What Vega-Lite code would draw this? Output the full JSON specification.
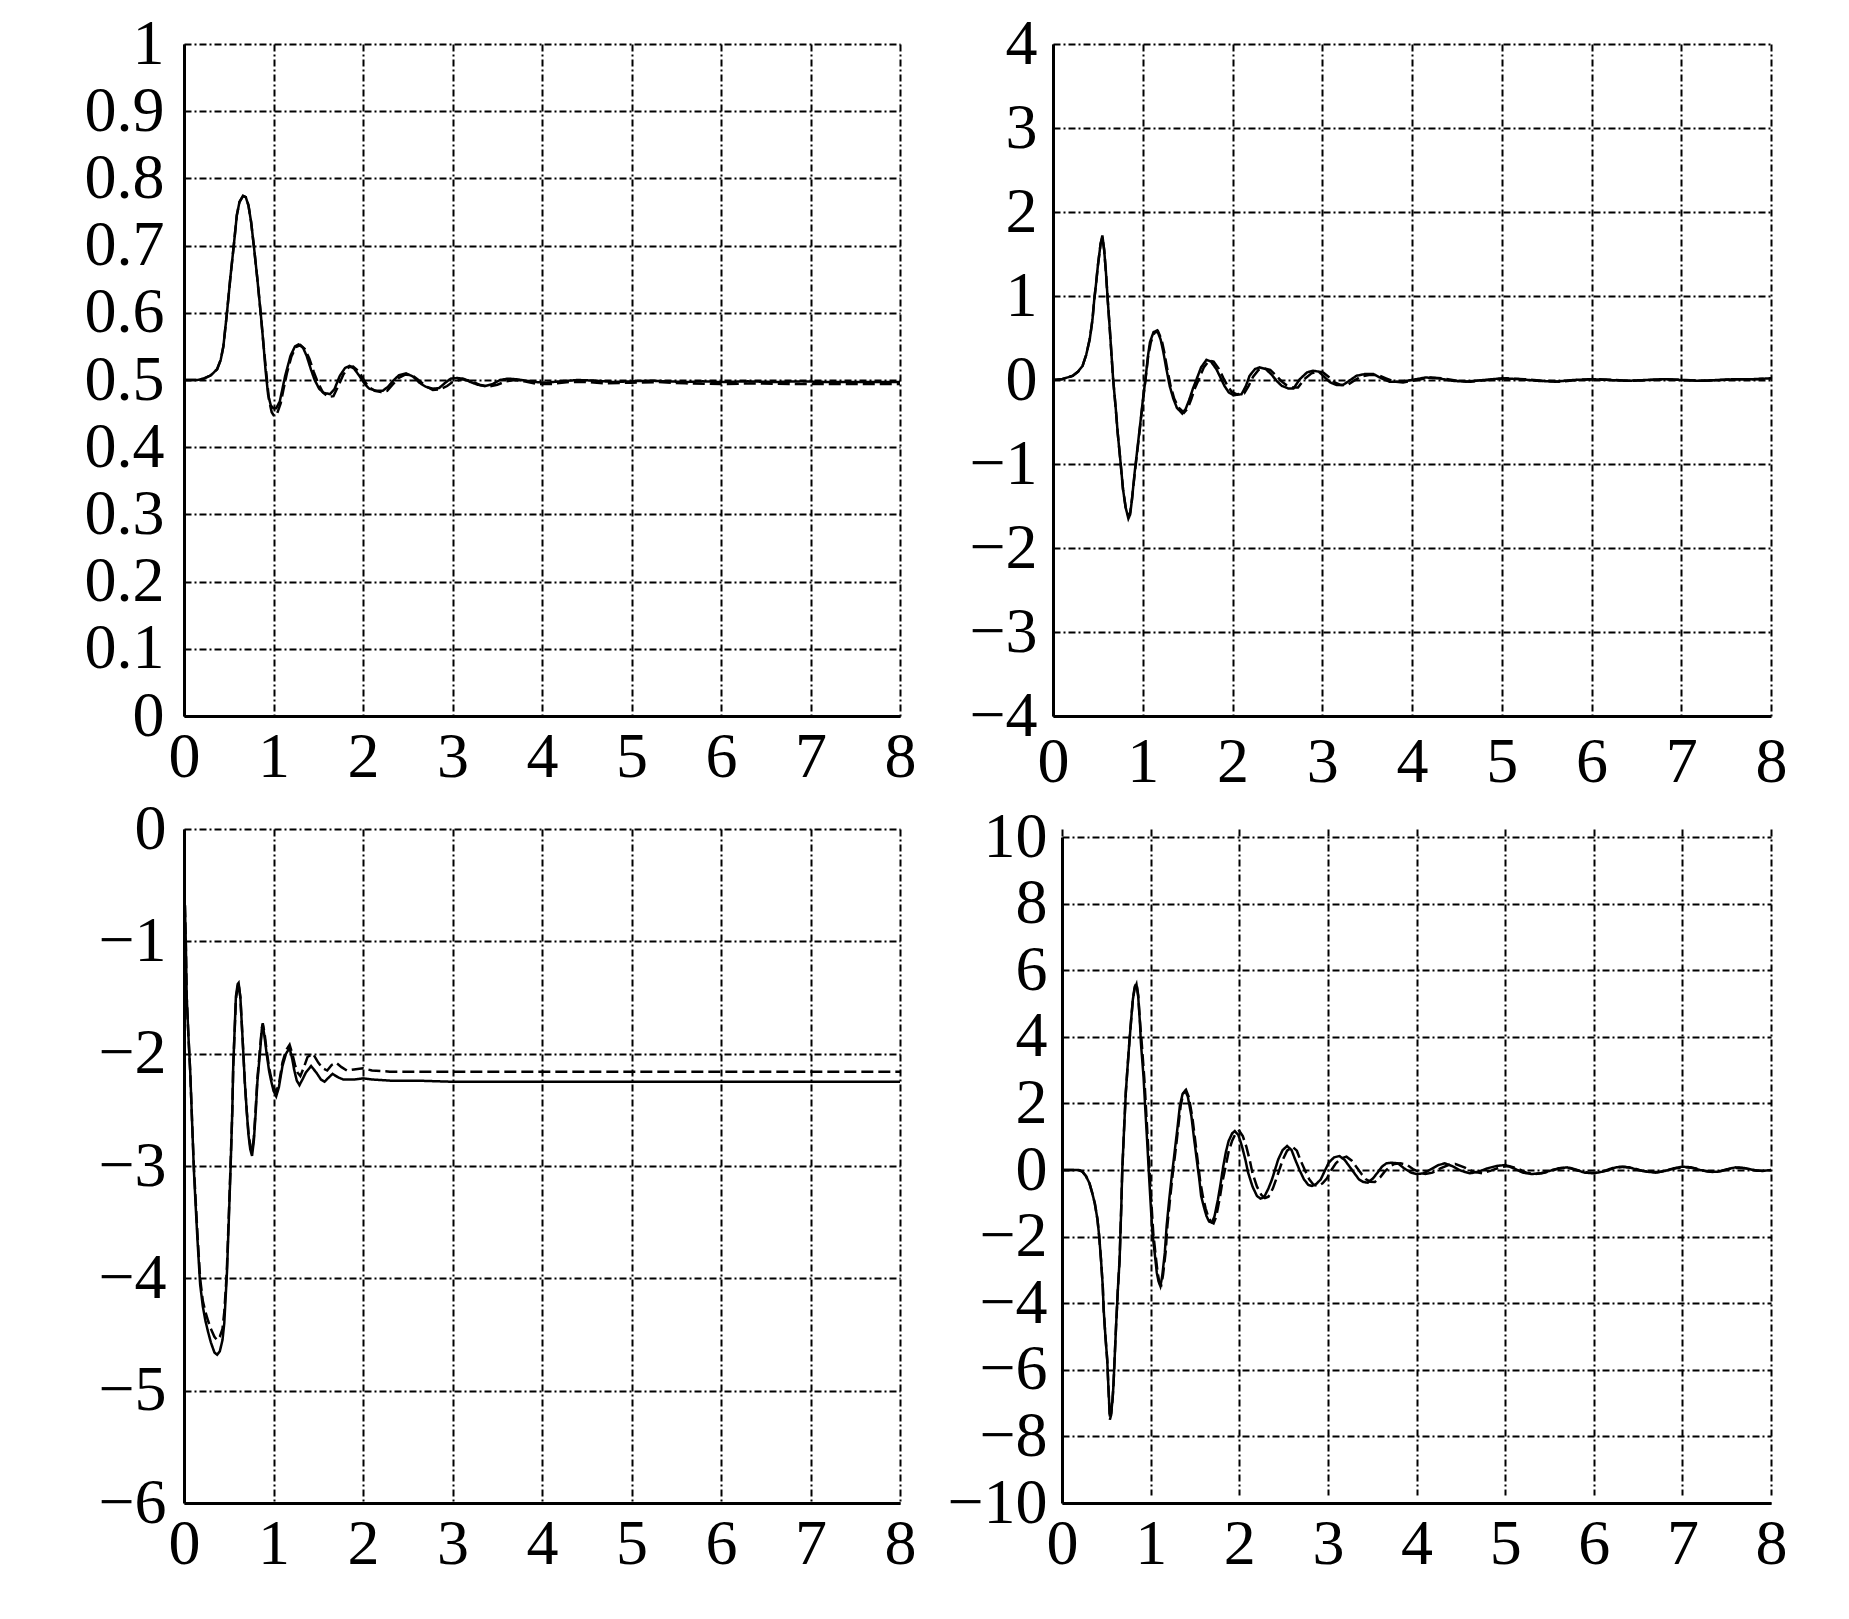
{
  "$schema": "https://vega.github.io/schema/vega-lite/v6.json",
  "background": "white",
  "padding": {"left": 84, "top": 12, "right": 10, "bottom": 10},
  "autosize": {"type": "pad"},
  "config": {
    "view": {"stroke": null},
    "font": "Liberation Serif",
    "axis": {
      "domainColor": "black",
      "domainWidth": 3,
      "grid": true,
      "gridColor": "black",
      "gridDash": [7, 3, 2, 3],
      "gridWidth": 2,
      "gridOpacity": 1,
      "ticks": false,
      "tickSize": 0,
      "labelFont": "Liberation Serif",
      "labelFontSize": 64,
      "labelColor": "black",
      "labelOverlap": false,
      "labelFlush": false,
      "labelBound": false,
      "title": null
    }
  },
  "datasets": {
    "p1": [
      {"t":0,"v":0.5,"s":"solid"},{"t":0.15,"v":0.5,"s":"solid"},{"t":0.22,"v":0.502,"s":"solid"},{"t":0.3,"v":0.507,"s":"solid"},{"t":0.37,"v":0.516,"s":"solid"},{"t":0.41,"v":0.53,"s":"solid"},{"t":0.44,"v":0.55,"s":"solid"},{"t":0.48,"v":0.6,"s":"solid"},{"t":0.52,"v":0.655,"s":"solid"},{"t":0.56,"v":0.705,"s":"solid"},{"t":0.59,"v":0.745,"s":"solid"},{"t":0.62,"v":0.765,"s":"solid"},{"t":0.66,"v":0.774,"s":"solid"},{"t":0.69,"v":0.772,"s":"solid"},{"t":0.72,"v":0.76,"s":"solid"},{"t":0.75,"v":0.735,"s":"solid"},{"t":0.78,"v":0.7,"s":"solid"},{"t":0.82,"v":0.65,"s":"solid"},{"t":0.86,"v":0.595,"s":"solid"},{"t":0.89,"v":0.55,"s":"solid"},{"t":0.91,"v":0.516,"s":"solid"},{"t":0.94,"v":0.478,"s":"solid"},{"t":0.97,"v":0.462,"s":"solid"},{"t":1.0,"v":0.458,"s":"solid"},{"t":1.03,"v":0.458,"s":"solid"},{"t":1.07,"v":0.468,"s":"solid"},{"t":1.1,"v":0.487,"s":"solid"},{"t":1.13,"v":0.506,"s":"solid"},{"t":1.19,"v":0.536,"s":"solid"},{"t":1.24,"v":0.55,"s":"solid"},{"t":1.28,"v":0.553,"s":"solid"},{"t":1.33,"v":0.548,"s":"solid"},{"t":1.37,"v":0.536,"s":"solid"},{"t":1.42,"v":0.515,"s":"solid"},{"t":1.46,"v":0.5,"s":"solid"},{"t":1.51,"v":0.487,"s":"solid"},{"t":1.56,"v":0.481,"s":"solid"},{"t":1.63,"v":0.479,"s":"solid"},{"t":1.68,"v":0.486,"s":"solid"},{"t":1.74,"v":0.506,"s":"solid"},{"t":1.8,"v":0.518,"s":"solid"},{"t":1.85,"v":0.521,"s":"solid"},{"t":1.9,"v":0.517,"s":"solid"},{"t":1.96,"v":0.506,"s":"solid"},{"t":2.02,"v":0.494,"s":"solid"},{"t":2.07,"v":0.487,"s":"solid"},{"t":2.15,"v":0.484,"s":"solid"},{"t":2.22,"v":0.484,"s":"solid"},{"t":2.28,"v":0.49,"s":"solid"},{"t":2.33,"v":0.498,"s":"solid"},{"t":2.4,"v":0.507,"s":"solid"},{"t":2.48,"v":0.51,"s":"solid"},{"t":2.56,"v":0.505,"s":"solid"},{"t":2.63,"v":0.496,"s":"solid"},{"t":2.7,"v":0.49,"s":"solid"},{"t":2.78,"v":0.487,"s":"solid"},{"t":2.85,"v":0.488,"s":"solid"},{"t":2.92,"v":0.496,"s":"solid"},{"t":2.98,"v":0.502,"s":"solid"},{"t":3.05,"v":0.503,"s":"solid"},{"t":3.12,"v":0.502,"s":"solid"},{"t":3.2,"v":0.497,"s":"solid"},{"t":3.28,"v":0.493,"s":"solid"},{"t":3.36,"v":0.491,"s":"solid"},{"t":3.45,"v":0.494,"s":"solid"},{"t":3.53,"v":0.5,"s":"solid"},{"t":3.62,"v":0.502,"s":"solid"},{"t":3.72,"v":0.501,"s":"solid"},{"t":3.82,"v":0.499,"s":"solid"},{"t":3.92,"v":0.497,"s":"solid"},{"t":4.05,"v":0.496,"s":"solid"},{"t":4.2,"v":0.498,"s":"solid"},{"t":4.4,"v":0.5,"s":"solid"},{"t":4.6,"v":0.499,"s":"solid"},{"t":4.8,"v":0.497,"s":"solid"},{"t":5.0,"v":0.498,"s":"solid"},{"t":5.2,"v":0.499,"s":"solid"},{"t":5.4,"v":0.498,"s":"solid"},{"t":5.6,"v":0.497,"s":"solid"},{"t":5.8,"v":0.498,"s":"solid"},{"t":6.0,"v":0.497,"s":"solid"},{"t":6.3,"v":0.498,"s":"solid"},{"t":6.6,"v":0.497,"s":"solid"},{"t":6.9,"v":0.498,"s":"solid"},{"t":7.2,"v":0.497,"s":"solid"},{"t":7.5,"v":0.497,"s":"solid"},{"t":7.8,"v":0.497,"s":"solid"},{"t":8.0,"v":0.497,"s":"solid"},
      {"t":0,"v":0.5,"s":"dashed"},{"t":0.15,"v":0.5,"s":"dashed"},{"t":0.22,"v":0.502,"s":"dashed"},{"t":0.3,"v":0.507,"s":"dashed"},{"t":0.37,"v":0.516,"s":"dashed"},{"t":0.41,"v":0.53,"s":"dashed"},{"t":0.44,"v":0.55,"s":"dashed"},{"t":0.48,"v":0.6,"s":"dashed"},{"t":0.52,"v":0.655,"s":"dashed"},{"t":0.56,"v":0.705,"s":"dashed"},{"t":0.59,"v":0.745,"s":"dashed"},{"t":0.62,"v":0.765,"s":"dashed"},{"t":0.66,"v":0.774,"s":"dashed"},{"t":0.69,"v":0.772,"s":"dashed"},{"t":0.72,"v":0.76,"s":"dashed"},{"t":0.75,"v":0.735,"s":"dashed"},{"t":0.78,"v":0.7,"s":"dashed"},{"t":0.82,"v":0.65,"s":"dashed"},{"t":0.86,"v":0.595,"s":"dashed"},{"t":0.89,"v":0.55,"s":"dashed"},{"t":0.92,"v":0.51,"s":"dashed"},{"t":0.95,"v":0.47,"s":"dashed"},{"t":0.98,"v":0.452,"s":"dashed"},{"t":1.01,"v":0.446,"s":"dashed"},{"t":1.04,"v":0.45,"s":"dashed"},{"t":1.08,"v":0.465,"s":"dashed"},{"t":1.11,"v":0.485,"s":"dashed"},{"t":1.15,"v":0.51,"s":"dashed"},{"t":1.2,"v":0.535,"s":"dashed"},{"t":1.25,"v":0.549,"s":"dashed"},{"t":1.3,"v":0.552,"s":"dashed"},{"t":1.35,"v":0.546,"s":"dashed"},{"t":1.4,"v":0.532,"s":"dashed"},{"t":1.45,"v":0.512,"s":"dashed"},{"t":1.5,"v":0.495,"s":"dashed"},{"t":1.55,"v":0.482,"s":"dashed"},{"t":1.61,"v":0.475,"s":"dashed"},{"t":1.67,"v":0.476,"s":"dashed"},{"t":1.72,"v":0.49,"s":"dashed"},{"t":1.78,"v":0.508,"s":"dashed"},{"t":1.84,"v":0.519,"s":"dashed"},{"t":1.89,"v":0.52,"s":"dashed"},{"t":1.95,"v":0.513,"s":"dashed"},{"t":2.0,"v":0.502,"s":"dashed"},{"t":2.06,"v":0.49,"s":"dashed"},{"t":2.13,"v":0.484,"s":"dashed"},{"t":2.2,"v":0.482,"s":"dashed"},{"t":2.27,"v":0.484,"s":"dashed"},{"t":2.33,"v":0.493,"s":"dashed"},{"t":2.4,"v":0.503,"s":"dashed"},{"t":2.47,"v":0.508,"s":"dashed"},{"t":2.55,"v":0.507,"s":"dashed"},{"t":2.63,"v":0.499,"s":"dashed"},{"t":2.7,"v":0.491,"s":"dashed"},{"t":2.78,"v":0.485,"s":"dashed"},{"t":2.86,"v":0.486,"s":"dashed"},{"t":2.94,"v":0.491,"s":"dashed"},{"t":3.0,"v":0.497,"s":"dashed"},{"t":3.1,"v":0.501,"s":"dashed"},{"t":3.2,"v":0.499,"s":"dashed"},{"t":3.3,"v":0.493,"s":"dashed"},{"t":3.4,"v":0.49,"s":"dashed"},{"t":3.5,"v":0.493,"s":"dashed"},{"t":3.6,"v":0.498,"s":"dashed"},{"t":3.7,"v":0.5,"s":"dashed"},{"t":3.8,"v":0.498,"s":"dashed"},{"t":3.95,"v":0.494,"s":"dashed"},{"t":4.1,"v":0.494,"s":"dashed"},{"t":4.3,"v":0.497,"s":"dashed"},{"t":4.5,"v":0.497,"s":"dashed"},{"t":4.7,"v":0.495,"s":"dashed"},{"t":5.0,"v":0.496,"s":"dashed"},{"t":5.3,"v":0.497,"s":"dashed"},{"t":5.6,"v":0.495,"s":"dashed"},{"t":6.0,"v":0.494,"s":"dashed"},{"t":6.4,"v":0.495,"s":"dashed"},{"t":6.8,"v":0.494,"s":"dashed"},{"t":7.2,"v":0.494,"s":"dashed"},{"t":7.6,"v":0.494,"s":"dashed"},{"t":8.0,"v":0.494,"s":"dashed"}
    ],
    "p2": [
      {"t":0,"v":0,"s":"solid"},{"t":0.1,"v":0.01,"s":"solid"},{"t":0.22,"v":0.05,"s":"solid"},{"t":0.28,"v":0.1,"s":"solid"},{"t":0.33,"v":0.17,"s":"solid"},{"t":0.37,"v":0.3,"s":"solid"},{"t":0.41,"v":0.49,"s":"solid"},{"t":0.44,"v":0.72,"s":"solid"},{"t":0.46,"v":0.96,"s":"solid"},{"t":0.48,"v":1.15,"s":"solid"},{"t":0.5,"v":1.36,"s":"solid"},{"t":0.53,"v":1.62,"s":"solid"},{"t":0.55,"v":1.72,"s":"solid"},{"t":0.57,"v":1.55,"s":"solid"},{"t":0.59,"v":1.28,"s":"solid"},{"t":0.61,"v":0.95,"s":"solid"},{"t":0.63,"v":0.65,"s":"solid"},{"t":0.65,"v":0.33,"s":"solid"},{"t":0.67,"v":0.01,"s":"solid"},{"t":0.7,"v":-0.35,"s":"solid"},{"t":0.72,"v":-0.62,"s":"solid"},{"t":0.75,"v":-0.95,"s":"solid"},{"t":0.78,"v":-1.3,"s":"solid"},{"t":0.81,"v":-1.52,"s":"solid"},{"t":0.84,"v":-1.65,"s":"solid"},{"t":0.86,"v":-1.6,"s":"solid"},{"t":0.88,"v":-1.42,"s":"solid"},{"t":0.91,"v":-1.1,"s":"solid"},{"t":0.94,"v":-0.82,"s":"solid"},{"t":0.97,"v":-0.54,"s":"solid"},{"t":1.0,"v":-0.25,"s":"solid"},{"t":1.03,"v":0.01,"s":"solid"},{"t":1.06,"v":0.3,"s":"solid"},{"t":1.08,"v":0.45,"s":"solid"},{"t":1.12,"v":0.57,"s":"solid"},{"t":1.16,"v":0.59,"s":"solid"},{"t":1.2,"v":0.48,"s":"solid"},{"t":1.23,"v":0.33,"s":"solid"},{"t":1.26,"v":0.15,"s":"solid"},{"t":1.3,"v":-0.07,"s":"solid"},{"t":1.34,"v":-0.22,"s":"solid"},{"t":1.38,"v":-0.33,"s":"solid"},{"t":1.44,"v":-0.4,"s":"solid"},{"t":1.48,"v":-0.34,"s":"solid"},{"t":1.52,"v":-0.23,"s":"solid"},{"t":1.56,"v":-0.1,"s":"solid"},{"t":1.6,"v":0.01,"s":"solid"},{"t":1.65,"v":0.15,"s":"solid"},{"t":1.71,"v":0.24,"s":"solid"},{"t":1.76,"v":0.22,"s":"solid"},{"t":1.82,"v":0.13,"s":"solid"},{"t":1.87,"v":0.02,"s":"solid"},{"t":1.91,"v":-0.07,"s":"solid"},{"t":1.96,"v":-0.15,"s":"solid"},{"t":2.01,"v":-0.18,"s":"solid"},{"t":2.1,"v":-0.17,"s":"solid"},{"t":2.15,"v":-0.07,"s":"solid"},{"t":2.19,"v":0.05,"s":"solid"},{"t":2.25,"v":0.13,"s":"solid"},{"t":2.3,"v":0.15,"s":"solid"},{"t":2.37,"v":0.13,"s":"solid"},{"t":2.43,"v":0.07,"s":"solid"},{"t":2.5,"v":-0.02,"s":"solid"},{"t":2.55,"v":-0.07,"s":"solid"},{"t":2.62,"v":-0.1,"s":"solid"},{"t":2.68,"v":-0.1,"s":"solid"},{"t":2.75,"v":0.01,"s":"solid"},{"t":2.83,"v":0.09,"s":"solid"},{"t":2.9,"v":0.11,"s":"solid"},{"t":2.96,"v":0.1,"s":"solid"},{"t":3.03,"v":0.03,"s":"solid"},{"t":3.09,"v":-0.03,"s":"solid"},{"t":3.16,"v":-0.06,"s":"solid"},{"t":3.23,"v":-0.06,"s":"solid"},{"t":3.3,"v":-0.01,"s":"solid"},{"t":3.38,"v":0.05,"s":"solid"},{"t":3.47,"v":0.07,"s":"solid"},{"t":3.57,"v":0.07,"s":"solid"},{"t":3.66,"v":0.02,"s":"solid"},{"t":3.75,"v":-0.02,"s":"solid"},{"t":3.85,"v":-0.02,"s":"solid"},{"t":3.94,"v":-0.01,"s":"solid"},{"t":4.05,"v":0.01,"s":"solid"},{"t":4.15,"v":0.03,"s":"solid"},{"t":4.3,"v":0.02,"s":"solid"},{"t":4.45,"v":-0.01,"s":"solid"},{"t":4.6,"v":-0.02,"s":"solid"},{"t":4.8,"v":0.0,"s":"solid"},{"t":5.0,"v":0.02,"s":"solid"},{"t":5.2,"v":0.01,"s":"solid"},{"t":5.4,"v":-0.01,"s":"solid"},{"t":5.6,"v":-0.02,"s":"solid"},{"t":5.8,"v":0.0,"s":"solid"},{"t":6.0,"v":0.01,"s":"solid"},{"t":6.2,"v":0.0,"s":"solid"},{"t":6.4,"v":-0.01,"s":"solid"},{"t":6.6,"v":0.0,"s":"solid"},{"t":6.8,"v":0.01,"s":"solid"},{"t":7.0,"v":0.0,"s":"solid"},{"t":7.2,"v":-0.01,"s":"solid"},{"t":7.4,"v":0.0,"s":"solid"},{"t":7.6,"v":0.01,"s":"solid"},{"t":7.8,"v":0.01,"s":"solid"},{"t":8.0,"v":0.02,"s":"solid"},
      {"t":0,"v":0,"s":"dashed"},{"t":0.1,"v":0.01,"s":"dashed"},{"t":0.22,"v":0.05,"s":"dashed"},{"t":0.28,"v":0.1,"s":"dashed"},{"t":0.33,"v":0.17,"s":"dashed"},{"t":0.37,"v":0.3,"s":"dashed"},{"t":0.41,"v":0.49,"s":"dashed"},{"t":0.44,"v":0.72,"s":"dashed"},{"t":0.46,"v":0.96,"s":"dashed"},{"t":0.48,"v":1.15,"s":"dashed"},{"t":0.5,"v":1.36,"s":"dashed"},{"t":0.53,"v":1.62,"s":"dashed"},{"t":0.55,"v":1.7,"s":"dashed"},{"t":0.57,"v":1.55,"s":"dashed"},{"t":0.59,"v":1.28,"s":"dashed"},{"t":0.61,"v":0.95,"s":"dashed"},{"t":0.63,"v":0.65,"s":"dashed"},{"t":0.65,"v":0.33,"s":"dashed"},{"t":0.67,"v":0.01,"s":"dashed"},{"t":0.7,"v":-0.35,"s":"dashed"},{"t":0.72,"v":-0.62,"s":"dashed"},{"t":0.75,"v":-0.95,"s":"dashed"},{"t":0.78,"v":-1.3,"s":"dashed"},{"t":0.81,"v":-1.52,"s":"dashed"},{"t":0.84,"v":-1.62,"s":"dashed"},{"t":0.86,"v":-1.58,"s":"dashed"},{"t":0.88,"v":-1.42,"s":"dashed"},{"t":0.91,"v":-1.12,"s":"dashed"},{"t":0.94,"v":-0.84,"s":"dashed"},{"t":0.97,"v":-0.56,"s":"dashed"},{"t":1.0,"v":-0.27,"s":"dashed"},{"t":1.03,"v":0.0,"s":"dashed"},{"t":1.06,"v":0.28,"s":"dashed"},{"t":1.09,"v":0.45,"s":"dashed"},{"t":1.13,"v":0.56,"s":"dashed"},{"t":1.17,"v":0.58,"s":"dashed"},{"t":1.21,"v":0.48,"s":"dashed"},{"t":1.24,"v":0.33,"s":"dashed"},{"t":1.27,"v":0.15,"s":"dashed"},{"t":1.31,"v":-0.07,"s":"dashed"},{"t":1.35,"v":-0.22,"s":"dashed"},{"t":1.4,"v":-0.33,"s":"dashed"},{"t":1.46,"v":-0.39,"s":"dashed"},{"t":1.5,"v":-0.34,"s":"dashed"},{"t":1.54,"v":-0.23,"s":"dashed"},{"t":1.58,"v":-0.1,"s":"dashed"},{"t":1.63,"v":0.02,"s":"dashed"},{"t":1.68,"v":0.15,"s":"dashed"},{"t":1.74,"v":0.23,"s":"dashed"},{"t":1.79,"v":0.22,"s":"dashed"},{"t":1.85,"v":0.13,"s":"dashed"},{"t":1.9,"v":0.02,"s":"dashed"},{"t":1.94,"v":-0.06,"s":"dashed"},{"t":1.99,"v":-0.14,"s":"dashed"},{"t":2.05,"v":-0.17,"s":"dashed"},{"t":2.13,"v":-0.16,"s":"dashed"},{"t":2.18,"v":-0.07,"s":"dashed"},{"t":2.23,"v":0.04,"s":"dashed"},{"t":2.29,"v":0.12,"s":"dashed"},{"t":2.35,"v":0.14,"s":"dashed"},{"t":2.42,"v":0.12,"s":"dashed"},{"t":2.48,"v":0.06,"s":"dashed"},{"t":2.55,"v":-0.02,"s":"dashed"},{"t":2.6,"v":-0.06,"s":"dashed"},{"t":2.67,"v":-0.09,"s":"dashed"},{"t":2.73,"v":-0.09,"s":"dashed"},{"t":2.8,"v":0.01,"s":"dashed"},{"t":2.88,"v":0.08,"s":"dashed"},{"t":2.95,"v":0.1,"s":"dashed"},{"t":3.01,"v":0.09,"s":"dashed"},{"t":3.08,"v":0.03,"s":"dashed"},{"t":3.14,"v":-0.03,"s":"dashed"},{"t":3.21,"v":-0.06,"s":"dashed"},{"t":3.28,"v":-0.06,"s":"dashed"},{"t":3.35,"v":-0.01,"s":"dashed"},{"t":3.43,"v":0.04,"s":"dashed"},{"t":3.52,"v":0.06,"s":"dashed"},{"t":3.62,"v":0.06,"s":"dashed"},{"t":3.71,"v":0.02,"s":"dashed"},{"t":3.8,"v":-0.02,"s":"dashed"},{"t":3.9,"v":-0.03,"s":"dashed"},{"t":4.0,"v":-0.01,"s":"dashed"},{"t":4.1,"v":0.01,"s":"dashed"},{"t":4.2,"v":0.03,"s":"dashed"},{"t":4.35,"v":0.02,"s":"dashed"},{"t":4.5,"v":-0.01,"s":"dashed"},{"t":4.65,"v":-0.02,"s":"dashed"},{"t":4.85,"v":0.0,"s":"dashed"},{"t":5.05,"v":0.02,"s":"dashed"},{"t":5.25,"v":0.01,"s":"dashed"},{"t":5.45,"v":-0.01,"s":"dashed"},{"t":5.65,"v":-0.02,"s":"dashed"},{"t":5.85,"v":0.0,"s":"dashed"},{"t":6.05,"v":0.01,"s":"dashed"},{"t":6.25,"v":0.0,"s":"dashed"},{"t":6.45,"v":-0.01,"s":"dashed"},{"t":6.65,"v":0.0,"s":"dashed"},{"t":6.85,"v":0.01,"s":"dashed"},{"t":7.05,"v":0.0,"s":"dashed"},{"t":7.25,"v":-0.01,"s":"dashed"},{"t":7.45,"v":0.0,"s":"dashed"},{"t":7.65,"v":0.01,"s":"dashed"},{"t":7.85,"v":0.01,"s":"dashed"},{"t":8.0,"v":0.02,"s":"dashed"}
    ],
    "p3": [
      {"t":0.01,"v":-0.68,"s":"solid"},{"t":0.02,"v":-1.0,"s":"solid"},{"t":0.03,"v":-1.49,"s":"solid"},{"t":0.05,"v":-1.85,"s":"solid"},{"t":0.07,"v":-2.17,"s":"solid"},{"t":0.09,"v":-2.6,"s":"solid"},{"t":0.11,"v":-3.03,"s":"solid"},{"t":0.13,"v":-3.35,"s":"solid"},{"t":0.15,"v":-3.65,"s":"solid"},{"t":0.18,"v":-4.05,"s":"solid"},{"t":0.21,"v":-4.25,"s":"solid"},{"t":0.24,"v":-4.38,"s":"solid"},{"t":0.27,"v":-4.48,"s":"solid"},{"t":0.3,"v":-4.57,"s":"solid"},{"t":0.34,"v":-4.66,"s":"solid"},{"t":0.37,"v":-4.68,"s":"solid"},{"t":0.4,"v":-4.65,"s":"solid"},{"t":0.43,"v":-4.55,"s":"solid"},{"t":0.45,"v":-4.4,"s":"solid"},{"t":0.47,"v":-4.1,"s":"solid"},{"t":0.48,"v":-3.95,"s":"solid"},{"t":0.5,"v":-3.5,"s":"solid"},{"t":0.52,"v":-3.03,"s":"solid"},{"t":0.54,"v":-2.5,"s":"solid"},{"t":0.55,"v":-2.11,"s":"solid"},{"t":0.57,"v":-1.7,"s":"solid"},{"t":0.58,"v":-1.49,"s":"solid"},{"t":0.6,"v":-1.38,"s":"solid"},{"t":0.61,"v":-1.37,"s":"solid"},{"t":0.63,"v":-1.5,"s":"solid"},{"t":0.64,"v":-1.65,"s":"solid"},{"t":0.66,"v":-1.95,"s":"solid"},{"t":0.68,"v":-2.26,"s":"solid"},{"t":0.7,"v":-2.5,"s":"solid"},{"t":0.72,"v":-2.72,"s":"solid"},{"t":0.74,"v":-2.85,"s":"solid"},{"t":0.76,"v":-2.91,"s":"solid"},{"t":0.78,"v":-2.78,"s":"solid"},{"t":0.8,"v":-2.54,"s":"solid"},{"t":0.82,"v":-2.25,"s":"solid"},{"t":0.85,"v":-1.98,"s":"solid"},{"t":0.87,"v":-1.78,"s":"solid"},{"t":0.88,"v":-1.74,"s":"solid"},{"t":0.9,"v":-1.85,"s":"solid"},{"t":0.92,"v":-1.98,"s":"solid"},{"t":0.95,"v":-2.15,"s":"solid"},{"t":0.97,"v":-2.23,"s":"solid"},{"t":1.0,"v":-2.33,"s":"solid"},{"t":1.03,"v":-2.38,"s":"solid"},{"t":1.06,"v":-2.3,"s":"solid"},{"t":1.1,"v":-2.11,"s":"solid"},{"t":1.14,"v":-2.0,"s":"solid"},{"t":1.18,"v":-1.95,"s":"solid"},{"t":1.21,"v":-2.05,"s":"solid"},{"t":1.23,"v":-2.14,"s":"solid"},{"t":1.26,"v":-2.24,"s":"solid"},{"t":1.29,"v":-2.28,"s":"solid"},{"t":1.33,"v":-2.22,"s":"solid"},{"t":1.36,"v":-2.17,"s":"solid"},{"t":1.42,"v":-2.11,"s":"solid"},{"t":1.48,"v":-2.17,"s":"solid"},{"t":1.53,"v":-2.23,"s":"solid"},{"t":1.57,"v":-2.25,"s":"solid"},{"t":1.62,"v":-2.21,"s":"solid"},{"t":1.66,"v":-2.18,"s":"solid"},{"t":1.72,"v":-2.21,"s":"solid"},{"t":1.78,"v":-2.23,"s":"solid"},{"t":1.9,"v":-2.23,"s":"solid"},{"t":2.0,"v":-2.22,"s":"solid"},{"t":2.1,"v":-2.23,"s":"solid"},{"t":2.3,"v":-2.24,"s":"solid"},{"t":2.6,"v":-2.24,"s":"solid"},{"t":3.0,"v":-2.25,"s":"solid"},{"t":3.5,"v":-2.25,"s":"solid"},{"t":4.0,"v":-2.25,"s":"solid"},{"t":5.0,"v":-2.25,"s":"solid"},{"t":6.0,"v":-2.25,"s":"solid"},{"t":7.0,"v":-2.25,"s":"solid"},{"t":8.0,"v":-2.25,"s":"solid"},
      {"t":0.01,"v":-0.68,"s":"dashed"},{"t":0.02,"v":-1.0,"s":"dashed"},{"t":0.03,"v":-1.49,"s":"dashed"},{"t":0.05,"v":-1.85,"s":"dashed"},{"t":0.07,"v":-2.17,"s":"dashed"},{"t":0.09,"v":-2.6,"s":"dashed"},{"t":0.11,"v":-3.0,"s":"dashed"},{"t":0.13,"v":-3.3,"s":"dashed"},{"t":0.15,"v":-3.6,"s":"dashed"},{"t":0.18,"v":-4.0,"s":"dashed"},{"t":0.21,"v":-4.2,"s":"dashed"},{"t":0.24,"v":-4.3,"s":"dashed"},{"t":0.27,"v":-4.38,"s":"dashed"},{"t":0.3,"v":-4.45,"s":"dashed"},{"t":0.34,"v":-4.52,"s":"dashed"},{"t":0.37,"v":-4.55,"s":"dashed"},{"t":0.4,"v":-4.52,"s":"dashed"},{"t":0.43,"v":-4.45,"s":"dashed"},{"t":0.45,"v":-4.3,"s":"dashed"},{"t":0.47,"v":-4.05,"s":"dashed"},{"t":0.48,"v":-3.9,"s":"dashed"},{"t":0.5,"v":-3.45,"s":"dashed"},{"t":0.52,"v":-3.0,"s":"dashed"},{"t":0.54,"v":-2.5,"s":"dashed"},{"t":0.55,"v":-2.11,"s":"dashed"},{"t":0.57,"v":-1.72,"s":"dashed"},{"t":0.58,"v":-1.52,"s":"dashed"},{"t":0.6,"v":-1.4,"s":"dashed"},{"t":0.61,"v":-1.38,"s":"dashed"},{"t":0.63,"v":-1.5,"s":"dashed"},{"t":0.64,"v":-1.65,"s":"dashed"},{"t":0.66,"v":-1.95,"s":"dashed"},{"t":0.68,"v":-2.26,"s":"dashed"},{"t":0.7,"v":-2.5,"s":"dashed"},{"t":0.72,"v":-2.7,"s":"dashed"},{"t":0.74,"v":-2.82,"s":"dashed"},{"t":0.76,"v":-2.87,"s":"dashed"},{"t":0.78,"v":-2.75,"s":"dashed"},{"t":0.8,"v":-2.5,"s":"dashed"},{"t":0.82,"v":-2.22,"s":"dashed"},{"t":0.85,"v":-1.95,"s":"dashed"},{"t":0.87,"v":-1.77,"s":"dashed"},{"t":0.88,"v":-1.73,"s":"dashed"},{"t":0.9,"v":-1.82,"s":"dashed"},{"t":0.92,"v":-1.95,"s":"dashed"},{"t":0.95,"v":-2.12,"s":"dashed"},{"t":0.97,"v":-2.2,"s":"dashed"},{"t":1.0,"v":-2.3,"s":"dashed"},{"t":1.03,"v":-2.34,"s":"dashed"},{"t":1.06,"v":-2.27,"s":"dashed"},{"t":1.1,"v":-2.08,"s":"dashed"},{"t":1.14,"v":-1.97,"s":"dashed"},{"t":1.18,"v":-1.92,"s":"dashed"},{"t":1.21,"v":-2.0,"s":"dashed"},{"t":1.24,"v":-2.1,"s":"dashed"},{"t":1.27,"v":-2.17,"s":"dashed"},{"t":1.3,"v":-2.2,"s":"dashed"},{"t":1.34,"v":-2.12,"s":"dashed"},{"t":1.38,"v":-2.03,"s":"dashed"},{"t":1.44,"v":-2.0,"s":"dashed"},{"t":1.5,"v":-2.08,"s":"dashed"},{"t":1.55,"v":-2.13,"s":"dashed"},{"t":1.6,"v":-2.15,"s":"dashed"},{"t":1.65,"v":-2.1,"s":"dashed"},{"t":1.7,"v":-2.08,"s":"dashed"},{"t":1.76,"v":-2.12,"s":"dashed"},{"t":1.82,"v":-2.15,"s":"dashed"},{"t":1.9,"v":-2.14,"s":"dashed"},{"t":2.0,"v":-2.13,"s":"dashed"},{"t":2.1,"v":-2.15,"s":"dashed"},{"t":2.3,"v":-2.16,"s":"dashed"},{"t":2.6,"v":-2.16,"s":"dashed"},{"t":3.0,"v":-2.16,"s":"dashed"},{"t":4.0,"v":-2.16,"s":"dashed"},{"t":5.0,"v":-2.16,"s":"dashed"},{"t":6.0,"v":-2.16,"s":"dashed"},{"t":7.0,"v":-2.16,"s":"dashed"},{"t":8.0,"v":-2.16,"s":"dashed"}
    ],
    "p4": [
      {"t":0,"v":0,"s":"solid"},{"t":0.1,"v":0,"s":"solid"},{"t":0.19,"v":0,"s":"solid"},{"t":0.23,"v":-0.05,"s":"solid"},{"t":0.27,"v":-0.18,"s":"solid"},{"t":0.31,"v":-0.4,"s":"solid"},{"t":0.34,"v":-0.68,"s":"solid"},{"t":0.37,"v":-1.0,"s":"solid"},{"t":0.4,"v":-1.48,"s":"solid"},{"t":0.42,"v":-2.0,"s":"solid"},{"t":0.44,"v":-2.69,"s":"solid"},{"t":0.46,"v":-3.5,"s":"solid"},{"t":0.47,"v":-4.19,"s":"solid"},{"t":0.49,"v":-5.0,"s":"solid"},{"t":0.51,"v":-5.69,"s":"solid"},{"t":0.525,"v":-6.6,"s":"solid"},{"t":0.54,"v":-7.4,"s":"solid"},{"t":0.555,"v":-7.3,"s":"solid"},{"t":0.57,"v":-6.9,"s":"solid"},{"t":0.58,"v":-6.5,"s":"solid"},{"t":0.61,"v":-4.69,"s":"solid"},{"t":0.63,"v":-3.6,"s":"solid"},{"t":0.65,"v":-2.69,"s":"solid"},{"t":0.67,"v":-1.0,"s":"solid"},{"t":0.68,"v":0,"s":"solid"},{"t":0.7,"v":1.2,"s":"solid"},{"t":0.72,"v":2.33,"s":"solid"},{"t":0.74,"v":3.1,"s":"solid"},{"t":0.76,"v":3.83,"s":"solid"},{"t":0.78,"v":4.5,"s":"solid"},{"t":0.8,"v":5.13,"s":"solid"},{"t":0.82,"v":5.45,"s":"solid"},{"t":0.84,"v":5.58,"s":"solid"},{"t":0.86,"v":5.2,"s":"solid"},{"t":0.88,"v":4.4,"s":"solid"},{"t":0.89,"v":3.83,"s":"solid"},{"t":0.92,"v":2.8,"s":"solid"},{"t":0.94,"v":1.82,"s":"solid"},{"t":0.96,"v":0.9,"s":"solid"},{"t":0.98,"v":-0.08,"s":"solid"},{"t":1.0,"v":-1.0,"s":"solid"},{"t":1.02,"v":-1.88,"s":"solid"},{"t":1.05,"v":-2.6,"s":"solid"},{"t":1.07,"v":-3.09,"s":"solid"},{"t":1.09,"v":-3.35,"s":"solid"},{"t":1.11,"v":-3.49,"s":"solid"},{"t":1.13,"v":-3.2,"s":"solid"},{"t":1.16,"v":-2.49,"s":"solid"},{"t":1.18,"v":-1.7,"s":"solid"},{"t":1.21,"v":-0.88,"s":"solid"},{"t":1.24,"v":-0.15,"s":"solid"},{"t":1.27,"v":0.52,"s":"solid"},{"t":1.3,"v":1.2,"s":"solid"},{"t":1.33,"v":1.92,"s":"solid"},{"t":1.36,"v":2.28,"s":"solid"},{"t":1.39,"v":2.38,"s":"solid"},{"t":1.42,"v":2.2,"s":"solid"},{"t":1.46,"v":1.62,"s":"solid"},{"t":1.49,"v":0.95,"s":"solid"},{"t":1.52,"v":0.32,"s":"solid"},{"t":1.55,"v":-0.3,"s":"solid"},{"t":1.57,"v":-0.78,"s":"solid"},{"t":1.6,"v":-1.1,"s":"solid"},{"t":1.63,"v":-1.38,"s":"solid"},{"t":1.66,"v":-1.55,"s":"solid"},{"t":1.69,"v":-1.58,"s":"solid"},{"t":1.72,"v":-1.4,"s":"solid"},{"t":1.76,"v":-0.88,"s":"solid"},{"t":1.79,"v":-0.4,"s":"solid"},{"t":1.82,"v":0.12,"s":"solid"},{"t":1.85,"v":0.55,"s":"solid"},{"t":1.88,"v":0.87,"s":"solid"},{"t":1.92,"v":1.1,"s":"solid"},{"t":1.95,"v":1.17,"s":"solid"},{"t":1.99,"v":1.05,"s":"solid"},{"t":2.03,"v":0.72,"s":"solid"},{"t":2.07,"v":0.3,"s":"solid"},{"t":2.1,"v":-0.08,"s":"solid"},{"t":2.15,"v":-0.5,"s":"solid"},{"t":2.2,"v":-0.78,"s":"solid"},{"t":2.24,"v":-0.86,"s":"solid"},{"t":2.28,"v":-0.82,"s":"solid"},{"t":2.33,"v":-0.55,"s":"solid"},{"t":2.37,"v":-0.28,"s":"solid"},{"t":2.44,"v":0.32,"s":"solid"},{"t":2.49,"v":0.6,"s":"solid"},{"t":2.54,"v":0.72,"s":"solid"},{"t":2.59,"v":0.6,"s":"solid"},{"t":2.63,"v":0.32,"s":"solid"},{"t":2.68,"v":0.0,"s":"solid"},{"t":2.73,"v":-0.28,"s":"solid"},{"t":2.78,"v":-0.45,"s":"solid"},{"t":2.82,"v":-0.48,"s":"solid"},{"t":2.87,"v":-0.42,"s":"solid"},{"t":2.92,"v":-0.28,"s":"solid"},{"t":2.97,"v":0.0,"s":"solid"},{"t":3.01,"v":0.22,"s":"solid"},{"t":3.07,"v":0.38,"s":"solid"},{"t":3.13,"v":0.42,"s":"solid"},{"t":3.19,"v":0.3,"s":"solid"},{"t":3.24,"v":0.12,"s":"solid"},{"t":3.3,"v":-0.1,"s":"solid"},{"t":3.35,"v":-0.28,"s":"solid"},{"t":3.4,"v":-0.36,"s":"solid"},{"t":3.45,"v":-0.38,"s":"solid"},{"t":3.51,"v":-0.25,"s":"solid"},{"t":3.56,"v":-0.08,"s":"solid"},{"t":3.61,"v":0.1,"s":"solid"},{"t":3.66,"v":0.2,"s":"solid"},{"t":3.72,"v":0.22,"s":"solid"},{"t":3.79,"v":0.2,"s":"solid"},{"t":3.86,"v":0.05,"s":"solid"},{"t":3.94,"v":-0.08,"s":"solid"},{"t":4.0,"v":-0.12,"s":"solid"},{"t":4.08,"v":-0.1,"s":"solid"},{"t":4.16,"v":0.02,"s":"solid"},{"t":4.25,"v":0.15,"s":"solid"},{"t":4.32,"v":0.2,"s":"solid"},{"t":4.4,"v":0.12,"s":"solid"},{"t":4.5,"v":-0.02,"s":"solid"},{"t":4.6,"v":-0.1,"s":"solid"},{"t":4.7,"v":-0.05,"s":"solid"},{"t":4.8,"v":0.05,"s":"solid"},{"t":4.9,"v":0.12,"s":"solid"},{"t":5.0,"v":0.15,"s":"solid"},{"t":5.1,"v":0.05,"s":"solid"},{"t":5.2,"v":-0.08,"s":"solid"},{"t":5.3,"v":-0.12,"s":"solid"},{"t":5.4,"v":-0.1,"s":"solid"},{"t":5.5,"v":-0.03,"s":"solid"},{"t":5.6,"v":0.05,"s":"solid"},{"t":5.7,"v":0.08,"s":"solid"},{"t":5.8,"v":0.0,"s":"solid"},{"t":5.9,"v":-0.08,"s":"solid"},{"t":6.0,"v":-0.1,"s":"solid"},{"t":6.1,"v":-0.05,"s":"solid"},{"t":6.2,"v":0.05,"s":"solid"},{"t":6.3,"v":0.1,"s":"solid"},{"t":6.4,"v":0.08,"s":"solid"},{"t":6.5,"v":0.0,"s":"solid"},{"t":6.6,"v":-0.05,"s":"solid"},{"t":6.7,"v":-0.08,"s":"solid"},{"t":6.8,"v":-0.03,"s":"solid"},{"t":6.9,"v":0.05,"s":"solid"},{"t":7.0,"v":0.1,"s":"solid"},{"t":7.1,"v":0.08,"s":"solid"},{"t":7.2,"v":0.0,"s":"solid"},{"t":7.3,"v":-0.05,"s":"solid"},{"t":7.4,"v":-0.05,"s":"solid"},{"t":7.5,"v":0.02,"s":"solid"},{"t":7.6,"v":0.08,"s":"solid"},{"t":7.7,"v":0.06,"s":"solid"},{"t":7.8,"v":0.0,"s":"solid"},{"t":7.9,"v":-0.03,"s":"solid"},{"t":8.0,"v":0.0,"s":"solid"},
      {"t":0,"v":0,"s":"dashed"},{"t":0.1,"v":0,"s":"dashed"},{"t":0.19,"v":0,"s":"dashed"},{"t":0.23,"v":-0.05,"s":"dashed"},{"t":0.27,"v":-0.18,"s":"dashed"},{"t":0.31,"v":-0.4,"s":"dashed"},{"t":0.34,"v":-0.68,"s":"dashed"},{"t":0.37,"v":-1.0,"s":"dashed"},{"t":0.4,"v":-1.48,"s":"dashed"},{"t":0.42,"v":-2.0,"s":"dashed"},{"t":0.44,"v":-2.69,"s":"dashed"},{"t":0.46,"v":-3.5,"s":"dashed"},{"t":0.47,"v":-4.19,"s":"dashed"},{"t":0.49,"v":-5.0,"s":"dashed"},{"t":0.51,"v":-5.69,"s":"dashed"},{"t":0.525,"v":-6.6,"s":"dashed"},{"t":0.54,"v":-7.5,"s":"dashed"},{"t":0.555,"v":-7.35,"s":"dashed"},{"t":0.57,"v":-6.9,"s":"dashed"},{"t":0.58,"v":-6.5,"s":"dashed"},{"t":0.61,"v":-4.69,"s":"dashed"},{"t":0.63,"v":-3.6,"s":"dashed"},{"t":0.65,"v":-2.69,"s":"dashed"},{"t":0.67,"v":-1.0,"s":"dashed"},{"t":0.68,"v":0,"s":"dashed"},{"t":0.7,"v":1.2,"s":"dashed"},{"t":0.72,"v":2.33,"s":"dashed"},{"t":0.74,"v":3.1,"s":"dashed"},{"t":0.76,"v":3.83,"s":"dashed"},{"t":0.78,"v":4.5,"s":"dashed"},{"t":0.8,"v":5.13,"s":"dashed"},{"t":0.82,"v":5.5,"s":"dashed"},{"t":0.84,"v":5.62,"s":"dashed"},{"t":0.86,"v":5.25,"s":"dashed"},{"t":0.88,"v":4.45,"s":"dashed"},{"t":0.9,"v":3.8,"s":"dashed"},{"t":0.93,"v":2.7,"s":"dashed"},{"t":0.95,"v":1.75,"s":"dashed"},{"t":0.97,"v":0.8,"s":"dashed"},{"t":0.99,"v":-0.15,"s":"dashed"},{"t":1.01,"v":-1.05,"s":"dashed"},{"t":1.03,"v":-1.9,"s":"dashed"},{"t":1.06,"v":-2.65,"s":"dashed"},{"t":1.08,"v":-3.1,"s":"dashed"},{"t":1.1,"v":-3.4,"s":"dashed"},{"t":1.12,"v":-3.45,"s":"dashed"},{"t":1.14,"v":-3.15,"s":"dashed"},{"t":1.17,"v":-2.45,"s":"dashed"},{"t":1.19,"v":-1.65,"s":"dashed"},{"t":1.22,"v":-0.85,"s":"dashed"},{"t":1.25,"v":-0.1,"s":"dashed"},{"t":1.28,"v":0.55,"s":"dashed"},{"t":1.31,"v":1.25,"s":"dashed"},{"t":1.34,"v":1.95,"s":"dashed"},{"t":1.37,"v":2.3,"s":"dashed"},{"t":1.4,"v":2.4,"s":"dashed"},{"t":1.43,"v":2.2,"s":"dashed"},{"t":1.47,"v":1.6,"s":"dashed"},{"t":1.5,"v":0.95,"s":"dashed"},{"t":1.53,"v":0.3,"s":"dashed"},{"t":1.56,"v":-0.35,"s":"dashed"},{"t":1.59,"v":-0.8,"s":"dashed"},{"t":1.62,"v":-1.15,"s":"dashed"},{"t":1.65,"v":-1.4,"s":"dashed"},{"t":1.68,"v":-1.55,"s":"dashed"},{"t":1.71,"v":-1.6,"s":"dashed"},{"t":1.74,"v":-1.4,"s":"dashed"},{"t":1.78,"v":-0.85,"s":"dashed"},{"t":1.81,"v":-0.35,"s":"dashed"},{"t":1.85,"v":0.15,"s":"dashed"},{"t":1.88,"v":0.55,"s":"dashed"},{"t":1.92,"v":0.88,"s":"dashed"},{"t":1.96,"v":1.1,"s":"dashed"},{"t":2.0,"v":1.18,"s":"dashed"},{"t":2.04,"v":1.02,"s":"dashed"},{"t":2.08,"v":0.7,"s":"dashed"},{"t":2.12,"v":0.28,"s":"dashed"},{"t":2.15,"v":-0.1,"s":"dashed"},{"t":2.2,"v":-0.5,"s":"dashed"},{"t":2.25,"v":-0.75,"s":"dashed"},{"t":2.29,"v":-0.84,"s":"dashed"},{"t":2.33,"v":-0.8,"s":"dashed"},{"t":2.38,"v":-0.55,"s":"dashed"},{"t":2.42,"v":-0.25,"s":"dashed"},{"t":2.49,"v":0.3,"s":"dashed"},{"t":2.54,"v":0.58,"s":"dashed"},{"t":2.6,"v":0.7,"s":"dashed"},{"t":2.65,"v":0.58,"s":"dashed"},{"t":2.69,"v":0.3,"s":"dashed"},{"t":2.74,"v":0.0,"s":"dashed"},{"t":2.79,"v":-0.28,"s":"dashed"},{"t":2.84,"v":-0.45,"s":"dashed"},{"t":2.89,"v":-0.48,"s":"dashed"},{"t":2.94,"v":-0.4,"s":"dashed"},{"t":2.99,"v":-0.25,"s":"dashed"},{"t":3.04,"v":0.0,"s":"dashed"},{"t":3.09,"v":0.2,"s":"dashed"},{"t":3.15,"v":0.35,"s":"dashed"},{"t":3.21,"v":0.4,"s":"dashed"},{"t":3.27,"v":0.28,"s":"dashed"},{"t":3.32,"v":0.1,"s":"dashed"},{"t":3.38,"v":-0.12,"s":"dashed"},{"t":3.43,"v":-0.28,"s":"dashed"},{"t":3.48,"v":-0.35,"s":"dashed"},{"t":3.53,"v":-0.36,"s":"dashed"},{"t":3.59,"v":-0.22,"s":"dashed"},{"t":3.64,"v":-0.05,"s":"dashed"},{"t":3.7,"v":0.1,"s":"dashed"},{"t":3.75,"v":0.18,"s":"dashed"},{"t":3.82,"v":0.2,"s":"dashed"},{"t":3.89,"v":0.16,"s":"dashed"},{"t":3.96,"v":0.03,"s":"dashed"},{"t":4.04,"v":-0.08,"s":"dashed"},{"t":4.1,"v":-0.12,"s":"dashed"},{"t":4.18,"v":-0.08,"s":"dashed"},{"t":4.27,"v":0.05,"s":"dashed"},{"t":4.36,"v":0.15,"s":"dashed"},{"t":4.44,"v":0.18,"s":"dashed"},{"t":4.54,"v":0.08,"s":"dashed"},{"t":4.64,"v":-0.05,"s":"dashed"},{"t":4.74,"v":-0.1,"s":"dashed"},{"t":4.84,"v":-0.02,"s":"dashed"},{"t":4.94,"v":0.08,"s":"dashed"},{"t":5.04,"v":0.12,"s":"dashed"},{"t":5.14,"v":0.04,"s":"dashed"},{"t":5.24,"v":-0.08,"s":"dashed"},{"t":5.34,"v":-0.12,"s":"dashed"},{"t":5.44,"v":-0.08,"s":"dashed"},{"t":5.54,"v":0.0,"s":"dashed"},{"t":5.64,"v":0.06,"s":"dashed"},{"t":5.74,"v":0.06,"s":"dashed"},{"t":5.84,"v":-0.02,"s":"dashed"},{"t":5.94,"v":-0.08,"s":"dashed"},{"t":6.04,"v":-0.08,"s":"dashed"},{"t":6.14,"v":-0.02,"s":"dashed"},{"t":6.24,"v":0.06,"s":"dashed"},{"t":6.34,"v":0.1,"s":"dashed"},{"t":6.44,"v":0.06,"s":"dashed"},{"t":6.54,"v":-0.02,"s":"dashed"},{"t":6.64,"v":-0.06,"s":"dashed"},{"t":6.74,"v":-0.06,"s":"dashed"},{"t":6.84,"v":0.0,"s":"dashed"},{"t":6.94,"v":0.06,"s":"dashed"},{"t":7.04,"v":0.08,"s":"dashed"},{"t":7.14,"v":0.05,"s":"dashed"},{"t":7.24,"v":-0.02,"s":"dashed"},{"t":7.34,"v":-0.06,"s":"dashed"},{"t":7.44,"v":-0.03,"s":"dashed"},{"t":7.54,"v":0.04,"s":"dashed"},{"t":7.64,"v":0.07,"s":"dashed"},{"t":7.74,"v":0.04,"s":"dashed"},{"t":7.84,"v":-0.02,"s":"dashed"},{"t":7.94,"v":-0.02,"s":"dashed"},{"t":8.0,"v":0.0,"s":"dashed"}
    ]
  },
  "bounds": "flush",
  "columns": 2,
  "spacing": {"column": 153, "row": 113},
  "concat": [
    {
      "width": 716, "height": 672,
      "data": {"name": "p1"},
      "mark": {"type": "line", "color": "black", "strokeWidth": 2.5},
      "encoding": {
        "x": {"field": "t", "type": "quantitative", "scale": {"domain": [0, 8], "nice": false, "zero": false},
              "axis": {"values": [0,1,2,3,4,5,6,7,8], "format": "d", "labelPadding": 9}},
        "y": {"field": "v", "type": "quantitative", "scale": {"domain": [0, 1], "nice": false, "zero": false},
              "axis": {"values": [0,0.1,0.2,0.3,0.4,0.5,0.6,0.7,0.8,0.9,1], "format": "~g", "labelPadding": 20}},
        "strokeDash": {"field": "s", "type": "nominal", "scale": {"domain": ["solid", "dashed"], "range": [[1, 0], [12, 5]]}, "legend": null}
      }
    },
    {
      "width": 718, "height": 672,
      "data": {"name": "p2"},
      "mark": {"type": "line", "color": "black", "strokeWidth": 2.5},
      "encoding": {
        "x": {"field": "t", "type": "quantitative", "scale": {"domain": [0, 8], "nice": false, "zero": false},
              "axis": {"values": [0,1,2,3,4,5,6,7,8], "format": "d", "labelPadding": 14}},
        "y": {"field": "v", "type": "quantitative", "scale": {"domain": [-4, 4], "nice": false, "zero": false},
              "axis": {"values": [-4,-3,-2,-1,0,1,2,3,4], "format": "d", "labelPadding": 16}},
        "strokeDash": {"field": "s", "type": "nominal", "scale": {"domain": ["solid", "dashed"], "range": [[1, 0], [12, 5]]}, "legend": null}
      }
    },
    {
      "width": 716, "height": 674,
      "data": {"name": "p3"},
      "mark": {"type": "line", "color": "black", "strokeWidth": 2.5},
      "encoding": {
        "x": {"field": "t", "type": "quantitative", "scale": {"domain": [0, 8], "nice": false, "zero": false},
              "axis": {"values": [0,1,2,3,4,5,6,7,8], "format": "d", "labelPadding": 9}},
        "y": {"field": "v", "type": "quantitative", "scale": {"domain": [-6, 0], "nice": false, "zero": false},
              "axis": {"values": [-6,-5,-4,-3,-2,-1,0], "format": "d", "labelPadding": 18}},
        "strokeDash": {"field": "s", "type": "nominal", "scale": {"domain": ["solid", "dashed"], "range": [[1, 0], [12, 5]]}, "legend": null}
      }
    },
    {
      "width": 718, "height": 674,
      "data": {"name": "p4"},
      "mark": {"type": "line", "color": "black", "strokeWidth": 2.5},
      "encoding": {
        "x": {"field": "t", "type": "quantitative", "scale": {"domain": [0, 8], "nice": false, "zero": false, "range": [9, 718]},
              "axis": {"values": [0,1,2,3,4,5,6,7,8], "format": "d", "labelPadding": 9}},
        "y": {"field": "v", "type": "quantitative", "scale": {"domain": [-10, 10], "nice": false, "zero": false, "range": [674, 8]},
              "axis": {"values": [-10,-8,-6,-4,-2,0,2,4,6,8,10], "format": "d", "labelPadding": 15, "offset": -9}},
        "strokeDash": {"field": "s", "type": "nominal", "scale": {"domain": ["solid", "dashed"], "range": [[1, 0], [12, 5]]}, "legend": null}
      }
    }
  ]
}
